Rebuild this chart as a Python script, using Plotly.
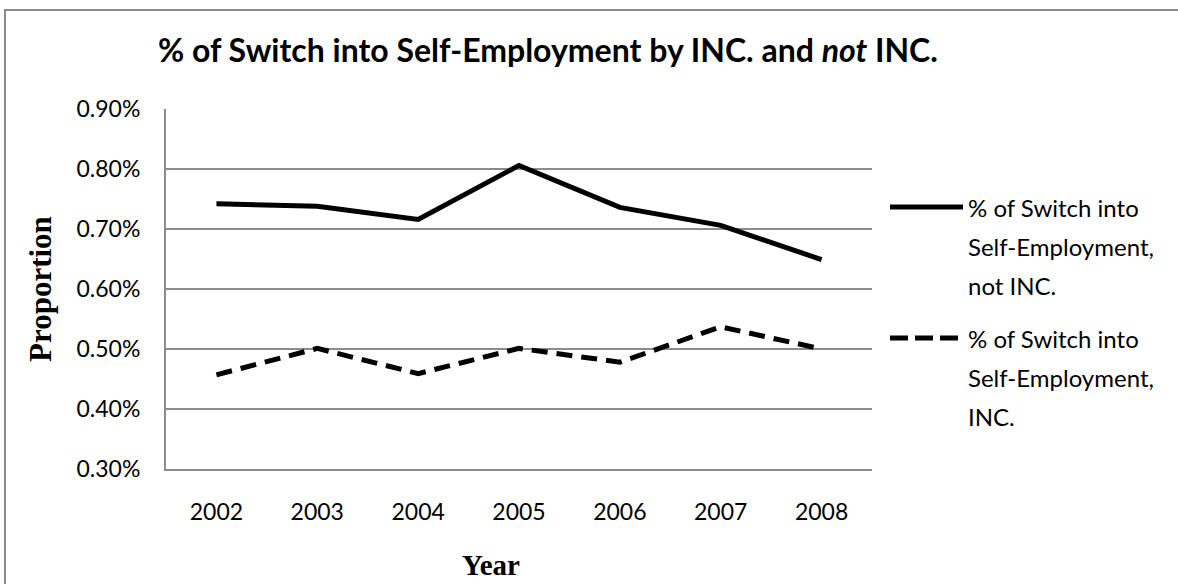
import plotly.graph_objects as go

years = ["2002", "2003", "2004", "2005", "2006", "2007", "2008"]
not_inc = [0.00742, 0.00738, 0.00716, 0.00806, 0.00736, 0.00706, 0.00649]
inc = [0.00457, 0.00501, 0.00459, 0.00501, 0.00478, 0.00537, 0.00500]
y_ticks = [0.003, 0.004, 0.005, 0.006, 0.007, 0.008, 0.009]
legend_not_inc = ["% of Switch into", "Self-Employment,", "not INC."]
legend_inc = ["% of Switch into", "Self-Employment,", "INC."]
title_text = "<b>% of Switch into Self-Employment by INC. and <i>not</i> INC.</b>"

FONT = "Lato"
GRID = "#8c8c8c"

fig = go.Figure()
fig.add_trace(go.Scatter(x=years, y=not_inc, mode="lines", name=" ".join(legend_not_inc),
                         line=dict(color="black", width=5), showlegend=False))
fig.add_trace(go.Scatter(x=years, y=inc, mode="lines", name=" ".join(legend_inc),
                         line=dict(color="black", width=5, dash="16px,9px"), showlegend=False))

W, H = 1178, 584
L, R, T, B = 166, 872, 109, 469

def px(x):
    return (x - L) / (R - L)

def py(y):
    return (B - y) / (B - T)

annotations = [
    dict(text=title_text, xref="paper", yref="paper", x=px(548), y=py(50),
         xanchor="center", yanchor="middle", showarrow=False,
         font=dict(family=FONT, size=32, color="black")),
    dict(text="<b>Proportion</b>", xref="paper", yref="paper", x=px(40), y=py(289),
         xanchor="center", yanchor="middle", textangle=-90, showarrow=False,
         font=dict(family="Liberation Serif", size=31, color="black")),
    dict(text="<b>Year</b>", xref="paper", yref="paper", x=px(491), y=py(565),
         xanchor="center", yanchor="middle", showarrow=False,
         font=dict(family="Liberation Serif", size=29, color="black")),
]
for lines, y0 in ((legend_not_inc, 207), (legend_inc, 338)):
    for i, t in enumerate(lines):
        annotations.append(dict(text=t, xref="paper", yref="paper", x=px(966), y=py(y0 + 39 * i),
                                xanchor="left", yanchor="middle", align="left", showarrow=False,
                                font=dict(family=FONT, size=24, color="black")))

border_path = (f"M {px(1178)},{py(10)} L {px(5)},{py(10)} L {px(5)},{py(584)}")

fig.update_layout(
    width=W, height=H,
    margin=dict(l=L, r=W - R, t=T, b=H - B),
    paper_bgcolor="white", plot_bgcolor="white",
    font=dict(family=FONT, size=23, color="black"),
    xaxis=dict(type="category", range=[-0.5, 6.5], showgrid=False, showline=True,
               linecolor=GRID, linewidth=2, ticks="", ticklabelstandoff=21,
               tickfont=dict(size=23)),
    yaxis=dict(range=[0.003, 0.009], tickvals=y_ticks, tickformat=".2%",
               showgrid=True, gridcolor=GRID, gridwidth=2, showline=True, linecolor=GRID,
               linewidth=2, ticks="", ticklabelstandoff=19, zeroline=False,
               tickfont=dict(size=23)),
    shapes=[
        dict(type="path", xref="paper", yref="paper", path=border_path,
             line=dict(color="#8a8a8a", width=2), fillcolor="rgba(0,0,0,0)", layer="above"),
        dict(type="line", xref="paper", yref="paper", x0=px(890), x1=px(963), y0=py(207), y1=py(207),
             line=dict(color="black", width=5)),
        dict(type="line", xref="paper", yref="paper", x0=px(890), x1=px(963), y0=py(338), y1=py(338),
             line=dict(color="black", width=5, dash="18px,7px")),
    ],
    annotations=annotations,
)

fig.write_html("out.html")
